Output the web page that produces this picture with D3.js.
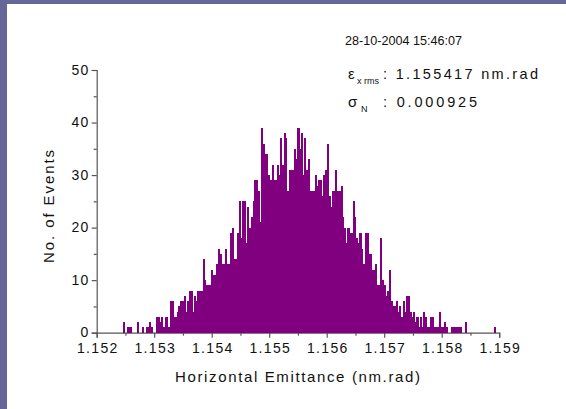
<!DOCTYPE html>
<html>
<head>
<meta charset="utf-8">
<script src="https://cdn.jsdelivr.net/npm/d3@7"></script>
<style>
  html, body { margin: 0; padding: 0; background: #fff; }
  svg { display: block; }
  text { font-family: "Liberation Sans", Arial, sans-serif; fill: #111; }
</style>
</head>
<body>
<svg id="chart" width="566" height="409"></svg>
<script>
// Histogram of horizontal emittance measurements
const binStart = 1.15246;     // lower edge of the first bin (nm.rad)
const binWidth = 0.00003;     // bin width (nm.rad)
const counts = [
  2,0,1,1,1,0,0,0,2,0,
  0,1,0,1,1,2,1,0,0,3,
  3,2,3,1,3,3,1,6,6,3,
  3,4,5,6,6,7,4,6,8,8,
  4,7,6,8,8,8,14,10,9,9,
  9,12,11,11,13,16,15,13,13,16,
  13,13,19,20,14,14,19,25,18,25,
  25,17,24,20,22,25,29,29,27,21,
  39,36,34,34,30,29,32,29,29,32,
  30,37,32,38,37,27,31,31,31,35,
  33,39,35,38,30,37,31,33,27,27,
  27,30,28,29,29,26,30,31,36,26,
  24,27,27,31,27,27,28,22,20,17,
  20,19,19,25,22,18,17,19,16,13,
  19,19,15,15,12,12,13,9,9,18,
  10,9,7,8,12,6,5,5,6,4,
  5,3,6,4,7,7,4,3,4,2,
  3,1,3,1,4,3,1,1,3,3,
  1,1,1,4,1,1,2,1,0,0,
  1,1,1,1,1,1,0,0,2,0,
  0,0,0,0,0,0,0,0,0,0,
  0,0,0,0,0,1
];

const xDomain = [1.152, 1.159];
const yDomain = [0, 50];
const xMajorTicks = [1.152, 1.153, 1.154, 1.155, 1.156, 1.157, 1.158, 1.159];
const xMinorTicks = [1.1525, 1.1535, 1.1545, 1.1555, 1.1565, 1.1575, 1.1585];
const yMajorTicks = [0, 10, 20, 30, 40, 50];
const yMinorTicks = [5, 15, 25, 35, 45];

const dateText = "28-10-2004 15:46:07";
const emitLabel = { sym: "\u03B5", sub: "x rms", subX: 357, value: ": 1.155417 nm.rad" };
const sigmaLabel = { sym: "\u03C3", sub: "N", subX: 361, value: ": 0.000925" };
const xTitle = "Horizontal Emittance (nm.rad)";
const yTitle = "No. of Events";

const svg = d3.select("#chart");
const W = 566, H = 409;
const frameColor = "#666699";
const barColor = "#800080";
const axisColor = "#555555";

// page frame: white sheet with a bar on the left and top
svg.append("rect").attr("width", W).attr("height", H).attr("fill", frameColor);
svg.append("rect").attr("x", 7).attr("y", 4).attr("width", W - 7).attr("height", H - 4).attr("fill", "#ffffff");

const x = d3.scaleLinear().domain(xDomain).range([96.7, 499.2]);
const y = d3.scaleLinear().domain(yDomain).range([332.7, 70]);

const bins = counts.map((c, i) => ({
  x0: binStart + i * binWidth,
  x1: binStart + (i + 1) * binWidth,
  count: c
})).filter(d => d.count > 0);

// axes
const xAxisMajor = d3.axisBottom(x).tickValues(xMajorTicks).tickSize(5).tickPadding(5)
  .tickFormat(d3.format(".3f"));
const xAxisMinor = d3.axisBottom(x).tickValues(xMinorTicks).tickSize(3).tickFormat("");
const yAxisMajor = d3.axisLeft(y).tickValues(yMajorTicks).tickSize(5).tickPadding(3)
  .tickFormat(d3.format("d"));
const yAxisMinor = d3.axisLeft(y).tickValues(yMinorTicks).tickSize(3).tickFormat("");

function styleAxis(g) {
  g.select(".domain").attr("stroke", axisColor).attr("stroke-width", 1.2);
  g.selectAll(".tick line").attr("stroke", axisColor).attr("stroke-width", 1.2);
  g.selectAll(".tick text")
    .attr("fill", "#111")
    .style("font-family", '"Liberation Sans", Arial, sans-serif')
    .style("font-size", "14px")
    .style("letter-spacing", "1.3px");
}

const gx = svg.append("g").attr("transform", `translate(0,${y(0)})`).call(xAxisMajor).call(styleAxis);
gx.selectAll(".tick text").attr("dx", "0.6px");
svg.append("g").attr("transform", `translate(0,${y(0)})`).call(xAxisMinor).call(styleAxis)
  .select(".domain").remove();
const gy = svg.append("g").attr("transform", `translate(${x(xDomain[0])},0)`).call(yAxisMajor).call(styleAxis);
gy.selectAll(".tick text").attr("dx", "1px").attr("dy", "0.3em");
svg.append("g").attr("transform", `translate(${x(xDomain[0])},0)`).call(yAxisMinor).call(styleAxis)
  .select(".domain").remove();

// histogram bars (slightly widened so neighbouring bins close up)
svg.append("g")
  .attr("shape-rendering", "crispEdges")
  .selectAll("rect")
  .data(bins)
  .join("rect")
  .attr("x", d => x(d.x0))
  .attr("width", d => x(d.x1) - x(d.x0) + 0.4)
  .attr("y", d => y(d.count))
  .attr("height", d => y(0) - y(d.count))
  .attr("fill", barColor);

// axis titles
svg.append("text")
  .attr("x", 175).attr("y", 382)
  .attr("textLength", 245).attr("lengthAdjust", "spacing")
  .style("font-size", "15px")
  .text(xTitle);

svg.append("text")
  .attr("transform", "translate(54,263) rotate(-90)")
  .attr("textLength", 113).attr("lengthAdjust", "spacing")
  .style("font-size", "15px")
  .text(yTitle);

// timestamp
svg.append("text")
  .attr("x", 345).attr("y", 45)
  .attr("textLength", 117).attr("lengthAdjust", "spacingAndGlyphs")
  .style("font-size", "13.5px")
  .text(dateText);

// statistics block
function statLine(item, baseY, valueLen) {
  svg.append("text").attr("x", 348).attr("y", baseY).style("font-size", "15px").text(item.sym);
  svg.append("text").attr("x", item.subX).attr("y", baseY + 5).style("font-size", "9px").text(item.sub);
  svg.append("text").attr("x", 383).attr("y", baseY)
    .attr("textLength", valueLen).attr("lengthAdjust", "spacing")
    .style("font-size", "14.5px").text(item.value);
}
statLine(emitLabel, 79, 155);
statLine(sigmaLabel, 107, 94);
</script>
</body>
</html>
